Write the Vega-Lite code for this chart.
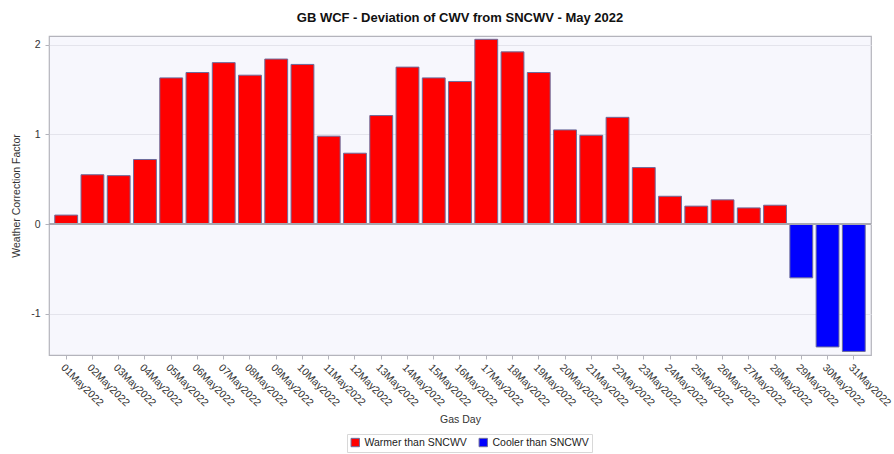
{
  "$schema": "https://vega.github.io/schema/vega-lite/v6.json",
  "autosize": "none",
  "width": 822,
  "height": 319,
  "padding": {"left": 49, "top": 36, "right": 23, "bottom": 99},
  "background": "#ffffff",
  "title": {"text": "GB WCF - Deviation of CWV from SNCWV - May 2022", "font": "Liberation Sans", "fontSize": 13, "fontWeight": "bold", "color": "#111111", "anchor": "middle", "offset": 11},
  "config": {
    "view": {"fill": "#f7f7fd", "stroke": "#b4b4bc", "strokeWidth": 1.2},
    "font": "Liberation Sans",
    "axis": {"labelFont": "Liberation Sans", "titleFont": "Liberation Sans", "labelColor": "#333333", "titleColor": "#333333", "labelFontSize": 10.5, "titleFontSize": 10.5, "titleFontWeight": "normal", "tickColor": "#b4b4bc", "tickSize": 4, "domain": false}
  },
  "data": {"values": [
    {"day": "01May2022", "wcf": 0.10, "status": "Warmer than SNCWV"},
    {"day": "02May2022", "wcf": 0.55, "status": "Warmer than SNCWV"},
    {"day": "03May2022", "wcf": 0.54, "status": "Warmer than SNCWV"},
    {"day": "04May2022", "wcf": 0.72, "status": "Warmer than SNCWV"},
    {"day": "05May2022", "wcf": 1.63, "status": "Warmer than SNCWV"},
    {"day": "06May2022", "wcf": 1.69, "status": "Warmer than SNCWV"},
    {"day": "07May2022", "wcf": 1.80, "status": "Warmer than SNCWV"},
    {"day": "08May2022", "wcf": 1.66, "status": "Warmer than SNCWV"},
    {"day": "09May2022", "wcf": 1.84, "status": "Warmer than SNCWV"},
    {"day": "10May2022", "wcf": 1.78, "status": "Warmer than SNCWV"},
    {"day": "11May2022", "wcf": 0.98, "status": "Warmer than SNCWV"},
    {"day": "12May2022", "wcf": 0.79, "status": "Warmer than SNCWV"},
    {"day": "13May2022", "wcf": 1.21, "status": "Warmer than SNCWV"},
    {"day": "14May2022", "wcf": 1.75, "status": "Warmer than SNCWV"},
    {"day": "15May2022", "wcf": 1.63, "status": "Warmer than SNCWV"},
    {"day": "16May2022", "wcf": 1.59, "status": "Warmer than SNCWV"},
    {"day": "17May2022", "wcf": 2.06, "status": "Warmer than SNCWV"},
    {"day": "18May2022", "wcf": 1.92, "status": "Warmer than SNCWV"},
    {"day": "19May2022", "wcf": 1.69, "status": "Warmer than SNCWV"},
    {"day": "20May2022", "wcf": 1.05, "status": "Warmer than SNCWV"},
    {"day": "21May2022", "wcf": 0.99, "status": "Warmer than SNCWV"},
    {"day": "22May2022", "wcf": 1.19, "status": "Warmer than SNCWV"},
    {"day": "23May2022", "wcf": 0.63, "status": "Warmer than SNCWV"},
    {"day": "24May2022", "wcf": 0.31, "status": "Warmer than SNCWV"},
    {"day": "25May2022", "wcf": 0.20, "status": "Warmer than SNCWV"},
    {"day": "26May2022", "wcf": 0.27, "status": "Warmer than SNCWV"},
    {"day": "27May2022", "wcf": 0.18, "status": "Warmer than SNCWV"},
    {"day": "28May2022", "wcf": 0.21, "status": "Warmer than SNCWV"},
    {"day": "29May2022", "wcf": -0.60, "status": "Cooler than SNCWV"},
    {"day": "30May2022", "wcf": -1.37, "status": "Cooler than SNCWV"},
    {"day": "31May2022", "wcf": -1.42, "status": "Cooler than SNCWV"}
  ]},
  "layer": [
    {
      "mark": {"type": "bar", "stroke": "#6c6c9c", "strokeWidth": 1},
      "encoding": {
        "x": {"field": "day", "type": "ordinal", "sort": null, "scale": {"paddingInner": 0.13, "paddingOuter": 0.22},
              "axis": {"title": "Gas Day", "labelAngle": 45, "labelPadding": 3, "titlePadding": 6}},
        "y": {"field": "wcf", "type": "quantitative", "scale": {"domain": [-1.46, 2.097], "nice": false, "zero": false},
              "axis": {"title": "Weather Correction Factor", "values": [-1, 0, 1, 2], "labelExpr": "'' + datum.value", "gridColor": "#e4e4ec", "gridWidth": 1, "labelPadding": 5, "titlePadding": 9}},
        "color": {"field": "status", "type": "nominal",
                  "scale": {"domain": ["Warmer than SNCWV", "Cooler than SNCWV"], "range": ["#ff0000", "#0000ff"]},
                  "legend": {"title": null, "orient": "none", "legendX": 298, "legendY": 398, "direction": "horizontal",
                             "symbolType": "square", "symbolSize": 70, "symbolStrokeColor": "#6c6c9c", "symbolStrokeWidth": 1,
                             "labelFont": "Liberation Sans", "labelFontSize": 10.5, "labelColor": "#222222",
                             "strokeColor": "#d8d8d8", "padding": 3, "columnPadding": 10, "symbolOffset": 0}}
      }
    },
    {
      "mark": {"type": "rule", "color": "#a8a8b0", "strokeWidth": 1},
      "encoding": {"y": {"datum": 0}}
    }
  ]
}
